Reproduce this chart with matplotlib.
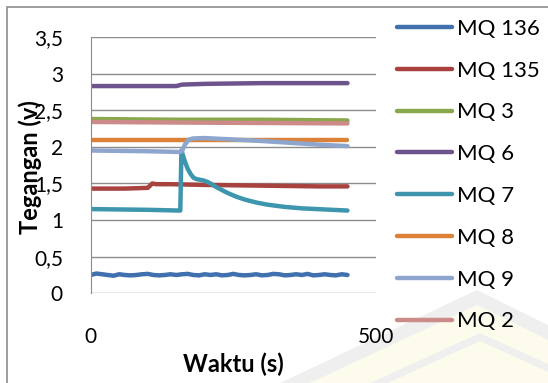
import numpy as np
import matplotlib.pyplot as plt
from matplotlib.patches import Polygon, Rectangle

plt.rcParams['font.family'] = ['Lato', 'DejaVu Sans']

# waktu (s) dan tegangan (v) tiap sensor
t_136 = [0, 10, 20, 30, 40, 50, 60, 70, 80, 90, 100, 110, 120, 130, 140, 150,
         160, 170, 180, 190, 200, 210, 220, 230, 240, 250, 260, 270, 280, 290,
         300, 310, 320, 330, 340, 350, 360, 370, 380, 390, 400, 410, 420, 430,
         440, 450]
v_136 = [0.25, 0.27, 0.26, 0.25, 0.24, 0.26, 0.25, 0.245, 0.25, 0.26, 0.265, 0.25,
         0.245, 0.25, 0.26, 0.25, 0.26, 0.265, 0.25, 0.245, 0.26, 0.25, 0.26, 0.245,
         0.25, 0.265, 0.25, 0.245, 0.25, 0.26, 0.245, 0.25, 0.265, 0.26, 0.245, 0.25,
         0.26, 0.25, 0.265, 0.245, 0.25, 0.26, 0.25, 0.245, 0.26, 0.25]

t_135 = [0, 60, 100, 108, 115, 140, 200, 300, 400, 450]
v_135 = [1.43, 1.43, 1.44, 1.50, 1.49, 1.49, 1.48, 1.47, 1.46, 1.46]

t_3 = [0, 150, 300, 450]
v_3 = [2.38, 2.37, 2.37, 2.36]

t_6 = [0, 150, 160, 200, 300, 450]
v_6 = [2.83, 2.83, 2.85, 2.86, 2.87, 2.87]

t_7 = [0, 100, 155, 157, 159, 163, 166, 170, 175, 180, 185, 192, 198, 205, 212,
       220, 230, 240, 255, 270, 290, 310, 340, 370, 410, 450]
v_7 = [1.15, 1.14, 1.13, 1.13, 1.95, 1.85, 1.78, 1.70, 1.63, 1.58, 1.56, 1.55,
       1.54, 1.52, 1.49, 1.45, 1.41, 1.37, 1.32, 1.28, 1.24, 1.21, 1.18, 1.16,
       1.145, 1.13]

t_8 = [0, 225, 450]
v_8 = [2.10, 2.10, 2.10]

t_9 = [0, 100, 155, 160, 165, 172, 180, 200, 300, 400, 450]
v_9 = [1.95, 1.94, 1.93, 1.94, 2.03, 2.10, 2.115, 2.12, 2.08, 2.03, 2.01]

t_2 = [0, 200, 450]
v_2 = [2.34, 2.33, 2.32]

series = [
    ('MQ 136', t_136, v_136, '#4170AE'),
    ('MQ 135', t_135, v_135, '#A8423F'),
    ('MQ 3', t_3, v_3, '#89A84C'),
    ('MQ 6', t_6, v_6, '#6E548D'),
    ('MQ 7', t_7, v_7, '#3D96AE'),
    ('MQ 8', t_8, v_8, '#DC8238'),
    ('MQ 9', t_9, v_9, '#8EA6CE'),
    ('MQ 2', t_2, v_2, '#CC8A89'),
]

fig = plt.figure(figsize=(5.48, 3.83), dpi=100)
W, H = 548, 383


def px(points):
    return [(x / W, 1 - y / H) for x, y in points]


# bingkai chart
fig.patches.append(Rectangle((7 / W, -0.05), 1.1, 1 - 7 / H + 0.05, transform=fig.transFigure,
                             fill=False, edgecolor='#8C8C8C', lw=1.2, zorder=0))

# watermark samar di pojok kanan bawah
fill = [(300, 383), (477, 300), (548, 335), (548, 383)]
band1 = [(280, 383), (477, 290), (548, 325), (548, 340), (477, 305), (310, 383)]
band2 = [(370, 383), (480, 333), (548, 364), (548, 372), (480, 341), (388, 383)]
fig.patches.append(Polygon(px(fill), closed=True, transform=fig.transFigure,
                           facecolor='#FDFCEC', edgecolor='none', zorder=-2))
for b in (band1, band2):
    fig.patches.append(Polygon(px(b), closed=True, transform=fig.transFigure,
                               facecolor='#EFEFEF', edgecolor='none', zorder=-1))

ax = fig.add_axes([90.7 / W, 1 - 293.3 / H, (376 - 90.7) / W, (293.3 - 37) / H])
ax.patch.set_alpha(0)

for label, t, v, c in series:
    ax.plot(t, v, color=c, lw=3.2, label=label, solid_capstyle='round',
            solid_joinstyle='round')

ax.set_xlim(0, 500)
ax.set_ylim(0, 3.5)
ax.set_xticks([0, 500])
ax.set_yticks(np.arange(0, 3.51, 0.5))
ax.set_yticklabels([f'{y:g}'.replace('.', ',') for y in np.arange(0, 3.51, 0.5)])
ax.grid(axis='y', color='#8C8C8C', lw=1)
ax.set_axisbelow(True)
for s in ['top', 'right', 'bottom']:
    ax.spines[s].set_visible(False)
ax.spines['left'].set_color('#8C8C8C')
ax.tick_params(axis='y', length=0, pad=20, labelsize=15)
ax.tick_params(axis='x', length=0, pad=24, labelsize=15)

fig.text(30 / W, 1 - 167 / H, 'Tegangan (v)', rotation=90, ha='center', va='center',
         fontsize=17, fontweight='bold')
fig.text(233 / W, 1 - 364 / H, 'Waktu (s)', ha='center', va='center',
         fontsize=17, fontweight='bold')

fig.legend(loc='upper left', bbox_to_anchor=(388 / W, 1 - 10 / H), frameon=False,
           fontsize=16, handlelength=2.5, handletextpad=0.2, labelspacing=0.98,
           borderaxespad=0)

fig.savefig('out.png', dpi=100, facecolor='white')
